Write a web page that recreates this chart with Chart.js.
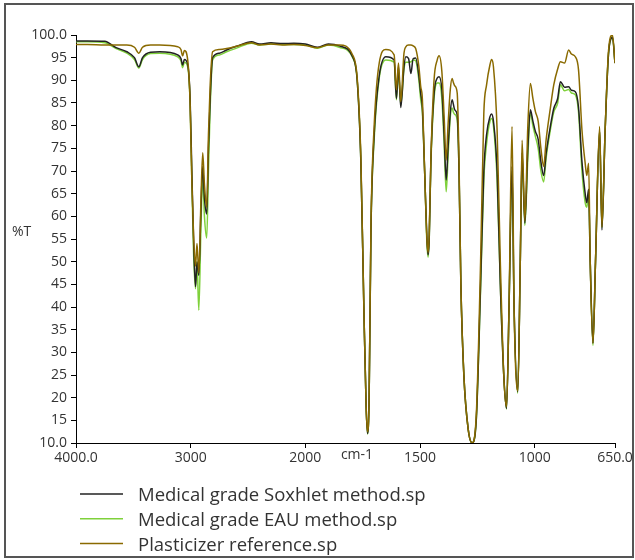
<!DOCTYPE html>
<html>
<head>
<meta charset="utf-8">
<script src="https://cdn.jsdelivr.net/npm/chart.js@4/dist/chart.umd.min.js"></script>
<style>
  body { margin: 0; background: #fff; }
  canvas { display: block; }
</style>
</head>
<body>
<canvas id="irChart" width="635" height="560"></canvas>
<script>
// wavenumbers (cm-1) and %T
const wavenumbers = [4000, 3900, 3750, 3650, 3557, 3490, 3452, 3420, 3350, 3270, 3113, 3085, 3070, 3055, 3026, 3005, 2990, 2975, 2958, 2945, 2929, 2910, 2895, 2880, 2860, 2845, 2830, 2809, 2750, 2687, 2600, 2470, 2400, 2300, 2200, 2100, 2000, 1948, 1900, 1852, 1794, 1774, 1758, 1745, 1735, 1729, 1722, 1714, 1700, 1678, 1649, 1613, 1603, 1594, 1584, 1570, 1562, 1550, 1540, 1530, 1519, 1505, 1497, 1490, 1480, 1470, 1465, 1460, 1453, 1439, 1425, 1417, 1405, 1395, 1386, 1378, 1368, 1360, 1355, 1349, 1338, 1330, 1322, 1309, 1290, 1273, 1255, 1236, 1222, 1210, 1195, 1188, 1180, 1164, 1150, 1135, 1123, 1112, 1099, 1090, 1074, 1063, 1055, 1043, 1030, 1019, 1008, 997, 985, 973, 961, 950, 932, 917, 900, 888, 870, 852, 840, 823, 809, 794, 780, 773, 765, 758, 746, 735, 717, 707, 693, 678, 661, 650];

const soxhlet = [98.7, 98.7, 98.6, 97.2, 96.3, 95.0, 93.0, 95.0, 96.2, 96.3, 95.6, 94.8, 93.4, 94.6, 93.5, 86, 70, 55, 44.5, 50, 47, 62, 71, 64, 60.5, 75, 86, 95.0, 96.0, 96.7, 97.5, 98.5, 98.0, 98.3, 98.1, 98.2, 98.0, 97.3, 98.0, 97.6, 95.2, 90, 72, 40, 18, 12.1, 20, 57, 78, 91, 95.2, 94.5, 86, 93, 84, 93, 95.2, 94.8, 91.5, 94.8, 94.9, 91, 87, 84, 70, 55, 51.5, 55, 71.8, 87, 90.5, 90.8, 88, 78, 68, 75, 83, 85.7, 84.8, 83.5, 82.4, 70, 45, 25, 13, 10, 15, 45, 70, 78, 82, 82.6, 81, 70, 45, 25, 17.6, 40, 71, 40, 21.3, 50, 74, 58.5, 75, 83.5, 81, 78.7, 77, 72, 69, 74, 79.8, 83.8, 86, 89.7, 88.5, 88.6, 87.8, 87.5, 84, 72, 65, 63, 66, 50, 32, 50, 79, 57, 79, 96, 99.5, 93.8];

const eau = [98.5, 98.5, 98.3, 97.0, 96.0, 94.6, 92.7, 94.6, 95.9, 96.0, 95.2, 94.3, 92.8, 94.0, 93.0, 85, 68, 52, 44.0, 50, 39.3, 58, 68.7, 60, 55.2, 70, 84, 94.5, 95.6, 96.3, 97.1, 98.2, 97.8, 98.0, 97.9, 97.9, 97.8, 97.1, 97.8, 97.3, 95.0, 90, 72, 40, 18, 12, 20, 57, 77, 90.5, 94.5, 94.0, 85.7, 92, 84.6, 92.5, 94, 94.0, 94.1, 94.5, 94.3, 90, 85.7, 83, 70, 54, 51, 55, 71, 86, 89.4, 89.4, 86, 76, 65.4, 73, 82, 83.9, 83, 82.5, 81.2, 70, 45, 25, 13, 10, 15, 44, 68, 76, 81, 81.6, 80, 68, 45, 25, 17.5, 40, 70, 40, 21, 50, 73, 58, 73, 83, 80, 77.6, 75, 70, 67.6, 73, 79, 83, 85, 89, 87.7, 88, 87.2, 86.8, 83, 70, 63, 62, 65, 50, 31.5, 50, 79, 57.5, 79, 96, 99.5, 93.8];

const plasticizer = [97.9, 97.9, 97.8, 97.8, 97.8, 97.3, 96.0, 97.3, 97.8, 97.8, 97.4, 96.8, 95.4, 96.6, 94.5, 85, 68, 56, 49.0, 54, 47.5, 64, 74, 67, 62, 78, 89, 96.3, 96.8, 97.0, 97.5, 98.3, 97.8, 98.0, 97.8, 97.9, 97.7, 97.2, 97.8, 97.8, 95.6, 90.5, 73, 40, 18, 12.5, 20, 58, 80, 93.8, 96.8, 95.6, 87.9, 93.8, 85.3, 96, 97.4, 97.8, 97.8, 97.6, 97.0, 93, 88.6, 86, 70, 55, 52, 56, 72, 90, 94.5, 95.4, 92, 82, 72.4, 80, 88, 90.4, 89.6, 88.8, 87.2, 72, 45, 25, 13, 10, 16, 50, 82.7, 89, 93.5, 94.6, 93, 79, 50, 25, 18, 40, 79.8, 40, 21.5, 50, 76.8, 59, 80, 89.3, 86, 83.1, 81, 75, 71, 77, 83.8, 89, 92.5, 94.1, 93.8, 96.7, 95.8, 95.2, 92.3, 79, 71.7, 69, 71.7, 50, 32, 50, 79.8, 57.7, 79, 96.7, 100, 93.8];

const seriesNames = ["Medical grade Soxhlet method.sp", "Medical grade EAU method.sp", "Plasticizer reference.sp"];
const seriesColors = ["#222222", "#7fd13b", "#8a6a00"];

const xTickValues = [4000, 3000, 2000, 1500, 1000, 650];
const xTickLabels = ["4000.0", "3000", "2000", "1500", "1000", "650.0"];

// IR axis: 1000 cm-1 per unit above 2000, 500 cm-1 per unit below
function axisPos(wn) {
    return wn >= 2000 ? (4000 - wn) / 1000 : 2 + (2000 - wn) / 500;
}

function toPoints(values) {
    return wavenumbers.map((w, i) => ({ x: axisPos(w), y: values[i] }));
}

const textColor = "#333333";
const tickFont = { family: "Open Sans", size: 14 };

const decorations = {
    id: "decorations",
    beforeDraw(chart) {
        const ctx = chart.ctx;
        ctx.save();
        ctx.fillStyle = "#fff";
        ctx.fillRect(0, 0, chart.width, chart.height);
        ctx.restore();
    },
    afterDraw(chart) {
        const ctx = chart.ctx;
        ctx.save();
        // frame
        ctx.strokeStyle = "#555";
        ctx.lineWidth = 2;
        ctx.strokeRect(5, 4, 628, 553);

        ctx.fillStyle = textColor;
        ctx.font = "14px 'Open Sans'";
        ctx.textBaseline = "middle";
        ctx.textAlign = "left";
        ctx.fillText("%T", 12, 232);
        ctx.textAlign = "center";
        ctx.fillText("cm-1", 357, 455);

        // legend
        ctx.font = "18.5px 'Open Sans'";
        ctx.textAlign = "left";
        chart.data.datasets.forEach((ds, i) => {
            const y = 494 + i * 24.7;
            ctx.strokeStyle = ds.borderColor;
            ctx.lineWidth = 1.5;
            ctx.beginPath();
            ctx.moveTo(80, y);
            ctx.lineTo(123, y);
            ctx.stroke();
            ctx.fillStyle = textColor;
            ctx.fillText(ds.label, 138, y + 2);
        });
        ctx.restore();
    }
};

new Chart(document.getElementById("irChart"), {
    type: "line",
    data: {
        datasets: [
            { label: seriesNames[0], data: toPoints(soxhlet), borderColor: seriesColors[0], order: 1 },
            { label: seriesNames[1], data: toPoints(eau), borderColor: seriesColors[1], order: 2 },
            { label: seriesNames[2], data: toPoints(plasticizer), borderColor: seriesColors[2], order: 0 },
        ],
    },
    options: {
        responsive: false,
        animation: false,
        devicePixelRatio: 1,
        layout: { padding: { top: 35, right: 20, left: 0, bottom: 0 } },
        elements: {
            point: { radius: 0 },
            line: { borderWidth: 1.5, cubicInterpolationMode: "monotone", fill: false },
        },
        plugins: {
            legend: { display: false },
            tooltip: { enabled: false },
        },
        scales: {
            x: {
                type: "linear",
                min: 0,
                max: axisPos(650),
                afterBuildTicks: (scale) => {
                    scale.ticks = xTickValues.map((w) => ({ value: axisPos(w) }));
                },
                afterFit: (scale) => { scale.height = 117; },
                ticks: {
                    autoSkip: false,
                    maxRotation: 0,
                    padding: 2,
                    color: textColor,
                    font: tickFont,
                    callback: (v, i) => xTickLabels[i],
                },
                grid: { drawOnChartArea: false, tickLength: 5, color: "#000" },
                border: { color: "#000", width: 1 },
            },
            y: {
                min: 10,
                max: 100,
                afterFit: (scale) => { scale.width = 76; },
                ticks: {
                    stepSize: 5,
                    padding: 4,
                    color: textColor,
                    font: tickFont,
                    callback: (v) => (v === 10 || v === 100 ? v.toFixed(1) : v),
                },
                grid: { drawOnChartArea: false, tickLength: 5, color: "#000" },
                border: { color: "#000", width: 1 },
            },
        },
    },
    plugins: [decorations],
});
</script>
</body>
</html>
